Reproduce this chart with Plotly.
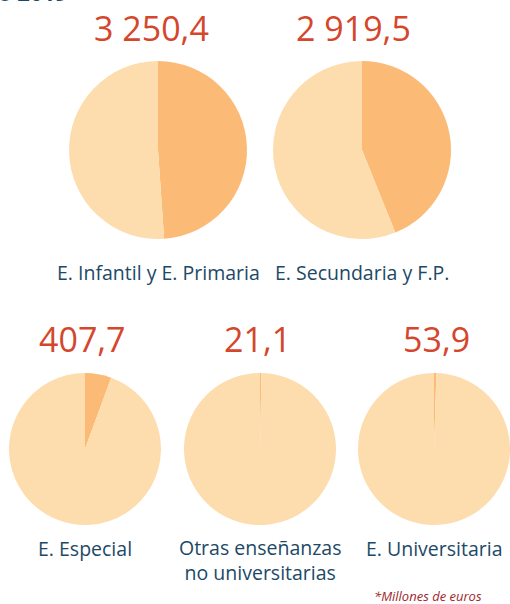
import plotly.graph_objects as go

categories = ["E. Infantil y E. Primaria", "E. Secundaria y F.P.", "E. Especial",
              "Otras enseñanzas<br>no universitarias", "E. Universitaria"]
totals = ["3 250,4", "2 919,5", "407,7", "21,1", "53,9"]
share_dark = [48.9, 43.9, 5.6, 0.3, 0.5]
share_light = [51.1, 56.1, 94.4, 99.7, 99.5]
slice_names = ["Parte A", "Parte B"]

W, H = 510, 604
# pie centers (px) and radii
centers = [(158, 150, 89), (362, 150, 89), (85, 449, 76), (260, 449, 76), (434, 449, 76)]
label_y = [272, 272, 548, 560, 548]
value_x = [151, 353, 82, 257, 436]
value_y = [28, 28, 339, 339, 339]

DARK = "#FBBB76"
LIGHT = "#FDDDAD"
RED = "#D5472C"
BLUE = "#1C4966"

fig = go.Figure()
annotations = []
for i, (cx, cy, r) in enumerate(centers):
    fig.add_trace(go.Pie(
        labels=slice_names,
        values=[share_dark[i], share_light[i]],
        sort=False, direction="clockwise", rotation=0,
        marker=dict(colors=[DARK, LIGHT], line=dict(width=0)),
        textinfo="none", hoverinfo="label+percent",
        showlegend=False,
        domain=dict(x=[(cx - r) / W, (cx + r) / W],
                    y=[1 - (cy + r) / H, 1 - (cy - r) / H]),
    ))
    annotations.append(dict(
        text=totals[i], x=value_x[i] / W, y=1 - value_y[i] / H, xref="paper", yref="paper",
        showarrow=False, xanchor="center", yanchor="middle",
        font=dict(family="Open Sans", size=34, color=RED)))
    annotations.append(dict(
        text=categories[i], x=cx / W, y=1 - label_y[i] / H, xref="paper", yref="paper",
        showarrow=False, xanchor="center", yanchor="middle",
        font=dict(family="Open Sans", size=19.5, color=BLUE)))

annotations.append(dict(
    text="<i>*Millones de euros</i>", x=484 / W, y=1 - 596 / H, xref="paper", yref="paper",
    showarrow=False, xanchor="right", yanchor="middle",
    font=dict(family="Open Sans", size=13, color="#A0262A")))
annotations.append(dict(
    text="<b>o 2019</b>", x=-4 / W, y=1 - 9 / H, xref="paper", yref="paper",
    showarrow=False, xanchor="left", yanchor="bottom",
    font=dict(family="Open Sans", size=22, color=BLUE)))

fig.update_layout(
    width=W, height=H, margin=dict(l=0, r=0, t=0, b=0),
    paper_bgcolor="white", plot_bgcolor="white",
    annotations=annotations,
)
fig.write_html("out.html", config={"displayModeBar": False},
               post_script="document.body.style.margin='0';document.body.style.overflow='hidden';")
